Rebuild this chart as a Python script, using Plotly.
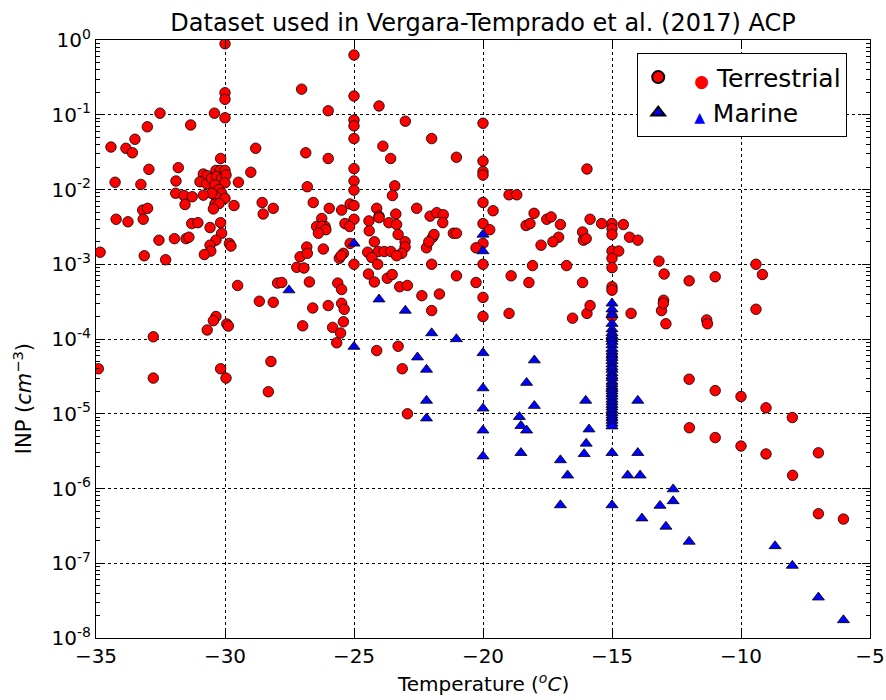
import plotly.graph_objects as go

# Terrestrial INP samples: temperature (degC) and concentration (cm^-3)
terr_temp = [
    -30.0, -30.0, -30.0, -30.0, -30.41, -32.52, -33.01, -31.33, -33.49, -34.42,
    -33.84, -33.59, -28.81, -30.17, -32.95, -31.81, -34.26, -33.26, -31.9, -31.91,
    -31.59, -31.27, -31.55, -33.19, -33.0, -34.22, -33.76, -33.17, -29.0, -29.48,
    -29.65, -28.56, -28.13, -28.52,
    -30.35, -30.19, -30.0, -30.84, -30.69, -30.97, -30.71, -30.52, -30.32, -30.13,
    -29.96, -30.0, -30.39, -30.23, -30.13, -30.35, -30.52, -30.84, -30.0, -30.39,
    -30.23, -30.45,
    -31.29, -31.05, -30.58, -30.17, -32.56, -31.96, -31.51, -31.4, -30.13, -30.35,
    -30.58, -29.83, -29.77, -30.55, -30.8, -34.84, -33.13, -32.3, -29.51, -27.96,
    -28.67, -28.13, -30.35, -30.45, -30.69, -29.93, -29.87, -32.78, -34.91, -32.78,
    -30.17, -29.96, -28.22, -28.32,
    -25.0, -27.03, -25.0, -24.03, -26.0, -25.0, -25.0, -23.01, -25.0, -21.99,
    -23.88, -26.87, -26.0, -23.58, -21.03, -25.0, -25.0, -25.0, -26.81, -23.42,
    -23.51, -26.58, -25.96, -25.48, -25.15, -25.0, -25.0, -26.25, -24.12, -24.03,
    -23.38, -22.57, -22.05, -21.79, -21.54, -21.56, -25.35, -25.17, -24.42, -24.03,
    -23.65, -23.35, -26.45, -26.12,
    -26.25, -26.09, -26.38, -25.15, -25.41, -25.57, -25.5, -24.41, -24.21, -24.47,
    -24.06, -23.83, -23.57, -23.29, -23.02, -23.02, -23.15, -23.35, -24.31, -24.08,
    -25.0, -26.83, -27.09, -26.81, -27.22, -26.94, -26.19, -27.8, -26.73, -25.63,
    -25.48, -26.6, -26.0, -25.48, -25.38, -25.41, -26.99, -25.83, -25.52, -25.67,
    -24.44, -24.21, -23.71, -23.52, -23.23, -22.93, -22.37, -21.69, -21.99, -21.03,
    -21.99, -21.95, -21.9, -22.19, -22.1, -21.15, -21.03, -24.12, -23.29, -23.13,
    -22.93,
    -20.0, -20.0, -20.0, -20.0, -15.97, -18.99, -18.69, -20.0, -19.61, -20.0,
    -19.74, -20.0, -20.27, -20.0, -20.27, -20.0, -20.0, -18.02, -18.33, -18.18,
    -17.53, -17.36, -17.0, -17.07, -17.29, -17.75, -18.08, -16.76, -18.91, -18.22,
    -16.14, -15.85, -15.4, -15.0, -15.0, -15.0, -14.56, -14.32, -14.0, -16.14,
    -16.11, -16.0, -15.0, -14.74, -15.0, -15.0, -15.0, -13.18, -12.98, -13.0,
    -18.99, -16.53, -15.97, -15.85, -15.0, -15.0, -14.26, -13.08, -13.01, -12.91,
    -15.0, -15.0,
    -12.01, -11.0, -9.42, -9.17, -11.33, -11.3, -9.42,
    -12.01, -11.0, -10.0, -9.03, -8.01, -12.0, -11.0, -10.0, -9.03, -7.0,
    -8.0, -7.0, -6.03,
]
terr_inp = [
    0.89, 0.197, 0.161, 0.091, 0.105, 0.105, 0.069, 0.073, 0.047, 0.037,
    0.0356, 0.031, 0.0356, 0.026, 0.0186, 0.0196, 0.0125, 0.0117, 0.013, 0.0089,
    0.0083, 0.008, 0.0063, 0.0053, 0.0056, 0.004, 0.0037, 0.004, 0.017, 0.0125,
    0.0061, 0.0067, 0.0056, 0.0047,
    0.018, 0.018, 0.018, 0.0161, 0.0153, 0.0127, 0.0119, 0.0141, 0.0149, 0.0141,
    0.0156, 0.0123, 0.0115, 0.010, 0.0089, 0.008, 0.0089, 0.0084, 0.0076, 0.0064,
    0.0065, 0.0055,
    0.0035, 0.0036, 0.0031, 0.0036, 0.0021, 0.0022, 0.0022, 0.0023, 0.0026, 0.0021,
    0.0018, 0.0019, 0.00175, 0.0015, 0.00135, 0.00145, 0.0013, 0.00115, 0.00052, 0.00056,
    0.00032, 0.00031, 0.0002, 0.000176, 0.000132, 0.000159, 0.000149, 0.000107, 0.00004, 0.00003,
    0.00004, 0.00003, 0.00005, 0.0000197,
    0.63, 0.22, 0.178, 0.131, 0.113, 0.085, 0.071, 0.082, 0.048, 0.048,
    0.038, 0.031, 0.026, 0.026, 0.027, 0.019, 0.013, 0.0098, 0.0109, 0.0112,
    0.0083, 0.0067, 0.0056, 0.0053, 0.0064, 0.0061, 0.004, 0.0041, 0.0056, 0.0044,
    0.0047, 0.0056, 0.0044, 0.0049, 0.0046, 0.0036, 0.0035, 0.0032, 0.0038, 0.0042,
    0.0036, 0.0034, 0.0032, 0.0032,
    0.0032, 0.0029, 0.0026, 0.0019, 0.0014, 0.0012, 0.0013, 0.0028, 0.002, 0.00145,
    0.00148, 0.00148, 0.00148, 0.0025, 0.002, 0.0017, 0.0014, 0.0013, 0.00123, 0.001,
    0.001, 0.0017, 0.00126, 0.0014, 0.00091, 0.00089, 0.0016, 0.00057, 0.00058, 0.00056,
    0.00046, 0.00026, 0.00028, 0.0003, 0.00025, 0.00017, 0.00015, 0.000143, 0.00012, 0.000089,
    0.00074, 0.00058, 0.00065, 0.00073, 0.0005, 0.00052, 0.00038, 0.0004, 0.00024, 0.0007,
    0.001, 0.0023, 0.0025, 0.00166, 0.002, 0.0026, 0.0026, 0.00007, 0.00008, 0.00004,
    0.00001,
    0.077, 0.024, 0.0174, 0.0156, 0.0188, 0.0085, 0.0085, 0.0067, 0.0052, 0.0035,
    0.0029, 0.0019, 0.00166, 0.001, 0.00057, 0.00036, 0.0002, 0.0048, 0.0033, 0.0035,
    0.004, 0.0043, 0.0034, 0.0023, 0.002, 0.0018, 0.00096, 0.00096, 0.0007, 0.00057,
    0.00057, 0.004, 0.0035, 0.0035, 0.003, 0.0025, 0.0034, 0.0023, 0.0021, 0.0027,
    0.0021, 0.0022, 0.0015, 0.0015, 0.0012, 0.0009, 0.0005, 0.0011, 0.00074, 0.00033,
    0.00022, 0.00019, 0.00022, 0.00028, 0.00045, 0.0002, 0.00022, 0.00024, 0.0003, 0.00016,
    0.000058, 0.0001,
    0.0006, 0.00068, 0.001, 0.00073, 0.00018, 0.00016, 0.00025,
    0.000029, 0.0000204, 0.000017, 0.000012, 0.0000089, 0.0000065, 0.0000048, 0.0000037, 0.0000029, 0.000003,
    0.0000015, 0.00000046, 0.00000039,
]

# Marine INP samples
mar_temp = [
    -27.52, -25.0, -25.0, -24.03, -23.01, -21.99, -21.03, -22.54, -22.19, -22.19,
    -22.19, -20.0, -20.0, -20.0, -20.0, -20.0, -20.0, -20.0, -18.01, -18.31,
    -18.01, -18.59, -18.53, -18.31, -18.53, -17.0, -16.72, -16.02, -15.89, -16.0,
    -16.08, -14.0, -14.0, -14.39, -13.91, -15.0, -17.0, -15.0, -13.84, -13.14,
    -12.63, -12.63, -12.91, -12.01, -8.68, -8.01, -7.0, -6.03,
    -15.0, -15.0, -15.0, -15.0, -15.0, -15.0, -15.0, -15.0, -15.0, -15.0,
    -15.0, -15.0, -15.0, -15.0, -15.0, -15.0, -15.0, -15.0, -15.0, -15.0,
    -15.0, -15.0, -15.0, -15.0, -15.0, -15.0, -15.0, -15.0, -15.0, -15.0,
    -15.0, -15.0, -15.0, -15.0, -15.0, -15.0, -15.0, -15.0, -15.0,
]
mar_inp = [
    0.00045, 0.0019, 0.000079, 0.00034, 0.00024, 0.00012, 0.0001, 0.000057, 0.000039, 0.000015,
    0.0000087, 0.0025, 0.0015, 0.000065, 0.000022, 0.0000118, 0.000006, 0.0000027, 0.000052, 0.000026,
    0.0000128, 0.0000091, 0.0000069, 0.000006, 0.000003, 0.0000024, 0.0000015, 0.000015, 0.0000062, 0.000004,
    0.0000029, 0.000015, 0.000003, 0.0000015, 0.0000015, 0.000003, 0.0000006, 0.0000006, 0.0000004, 0.00000059,
    0.00000098, 0.00000068, 0.00000031, 0.000000195, 0.00000017, 0.000000093, 0.000000035, 0.0000000174,
    0.0003, 0.00025, 0.00021, 0.00016, 0.000135, 0.00012, 0.00011, 0.0001, 0.000092, 0.000083,
    0.000074, 0.000068, 0.000061, 0.000056, 0.000051, 0.000046, 0.000042, 0.000039, 0.000035, 0.000032,
    0.00003, 0.000027, 0.000025, 0.000023, 0.0000215, 0.00002, 0.0000185, 0.000017, 0.0000155, 0.0000143,
    0.0000132, 0.0000122, 0.0000112, 0.0000103, 0.0000095, 0.0000088, 0.0000081, 0.0000074, 0.0000068,
]

x_ticks = [-35, -30, -25, -20, -15, -10, -5]
x_tick_text = ["\u221235", "\u221230", "\u221225", "\u221220", "\u221215", "\u221210", "\u22125"]
y_exponents = [0, -1, -2, -3, -4, -5, -6, -7, -8]

FONT = "DejaVu Sans"
NB = "\u00a0"

fig = go.Figure()
fig.add_trace(go.Scatter(
    x=terr_temp, y=terr_inp, mode="markers",
    name=NB * 2 + '<span style="color:#ff0000;font-size:17px">\u25cf</span>' + NB + "Terrestrial",
    marker=dict(symbol="circle", size=10.5, color="#ff0000",
                line=dict(color="black", width=0.8)),
))
fig.add_trace(go.Scatter(
    x=mar_temp, y=mar_inp, mode="markers",
    name=NB * 2 + '<span style="color:#0000ff;font-size:14px">\u25b2</span>' + NB + "Marine",
    marker=dict(symbol="triangle-up", size=10.5, color="#0000ff",
                line=dict(color="black", width=0.8)),
))

axis_common = dict(
    showline=True, linecolor="black", linewidth=1.2, mirror="allticks",
    ticks="inside", ticklen=8, tickwidth=1, tickcolor="black",
    showgrid=True, gridcolor="black", gridwidth=1, griddash="dot",
    zeroline=False, automargin=False,
    tickfont=dict(family=FONT, size=20, color="black"),
)

fig.update_xaxes(
    range=[-35, -5], tickmode="array", tickvals=x_ticks, ticktext=x_tick_text,
    **axis_common,
)
fig.update_yaxes(
    type="log", range=[-8, 0], tickmode="array",
    tickvals=[10.0 ** e for e in y_exponents],
    ticktext=["10<sup>%d</sup>" % e for e in y_exponents],
    minor=dict(ticks="inside", ticklen=4, tickcolor="black", dtick="D1", showgrid=False),
    **axis_common,
)

# Axis titles placed as annotations for precise positioning
fig.add_annotation(
    text="Temperature (<sup><i>o</i></sup><i>C</i>)", xref="paper", yref="paper",
    x=0.5, y=-0.076, xanchor="center", yanchor="middle", showarrow=False,
    font=dict(family=FONT, size=20, color="black"),
)
fig.add_annotation(
    text="INP (<i>cm</i><sup>\u22123</sup>)", xref="paper", yref="paper",
    x=-0.095, y=0.4, xanchor="center", yanchor="middle", showarrow=False,
    textangle=-90, font=dict(family=FONT, size=21, color="black"),
)

fig.update_layout(
    width=886, height=700,
    margin=dict(l=96, r=16, t=40, b=62),
    paper_bgcolor="white", plot_bgcolor="white",
    font=dict(family=FONT, color="black"),
    title=dict(text="Dataset used in Vergara-Temprado et al. (2017) ACP",
               x=0.5, xref="paper", y=0.968, yref="container", yanchor="middle",
               font=dict(family=FONT, size=24, color="black")),
    legend=dict(x=0.699, y=0.978, xanchor="left", yanchor="top",
                bgcolor="white", bordercolor="black", borderwidth=1.2,
                font=dict(family=FONT, size=25, color="black"),
                itemsizing="constant", tracegroupgap=0),
    showlegend=True,
)

fig.write_html("out.html")
